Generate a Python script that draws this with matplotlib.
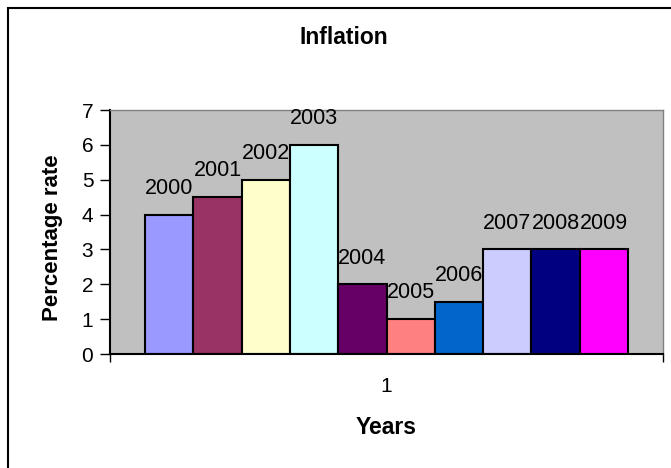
import matplotlib.pyplot as plt
from matplotlib.patches import Rectangle

# Inflation by year (one category, ten series as in the source chart)
years = ["2000", "2001", "2002", "2003", "2004", "2005", "2006", "2007", "2008", "2009"]
rates = [4, 4.5, 5, 6, 2, 1, 1.5, 3, 3, 3]
colors = ["#9999FF", "#993366", "#FFFFCC", "#CCFFFF", "#660066",
          "#FF8080", "#0066CC", "#CCCCFF", "#000080", "#FF00FF"]
category = ["1"]

plt.rcParams["font.family"] = ["Liberation Sans", "DejaVu Sans"]

W, H = 671, 468
fig = plt.figure(figsize=(W / 100, H / 100), dpi=100)
ax = fig.add_axes([110 / W, 1 - 354 / H, (663 - 110) / W, (354 - 110) / H])

# outer chart border (extends past right and bottom edges)
fig.patches.append(Rectangle((8 / W, -0.1), 1.2, 1 - 8 / H + 0.1, transform=fig.transFigure,
                             fill=False, edgecolor="black", linewidth=1.5))

n = len(rates)
group = 0.873
bw = group / n
for i, (yr, val, col) in enumerate(zip(years, rates, colors)):
    x = -group / 2 + bw * (i + 0.5)
    ax.bar(x, val, width=bw, color=col, edgecolor="black", linewidth=1.5, zorder=2)
    ax.text(x, val + 0.45, yr, ha="center", va="bottom", fontsize=15.5, zorder=3)

ax.set_facecolor("#C0C0C0")
ax.set_xlim(-0.5, 0.5)
ax.set_ylim(0, 7)
ax.set_yticks(range(8))
ax.tick_params(axis="y", labelsize=15, length=7, width=1, direction="out", pad=5)
# category boundary ticks at both ends, category label in the middle
ax.set_xticks([-0.5, 0.5])
ax.set_xticklabels(["", ""])
ax.tick_params(axis="x", length=6, width=1, direction="out")
fig.text(386 / W, 1 - 387 / H, category[0], ha="center", va="center", fontsize=15)

for side in ["top", "right"]:
    ax.spines[side].set_color("#808080")
    ax.spines[side].set_linewidth(1)
for side in ["left", "bottom"]:
    ax.spines[side].set_color("black")
    ax.spines[side].set_linewidth(1.5)

fig.text(344 / W, 1 - 38 / H, "Inflation", ha="center", va="center",
         fontsize=16.5, fontweight="bold")
fig.text(386 / W, 1 - 428 / H, "Years", ha="center", va="center",
         fontsize=16.5, fontweight="bold")
fig.text(53 / W, 1 - 238 / H, "Percentage rate", ha="center", va="center",
         rotation=90, fontsize=16, fontweight="bold")

fig.savefig("out.png", dpi=100)
